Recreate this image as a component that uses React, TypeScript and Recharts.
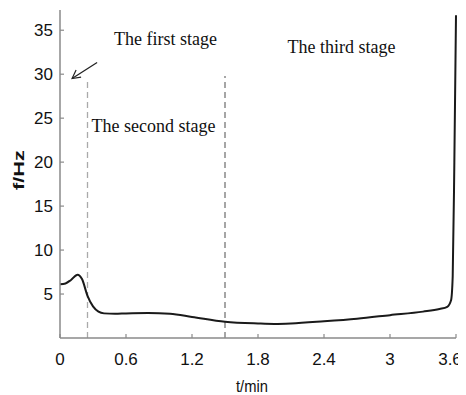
import React from 'react';
import {
  LineChart,
  Line,
  XAxis,
  YAxis,
  ReferenceLine,
  ReferenceDot,
} from 'recharts';

// time (min) and frequency (Hz)
const times = [
  0, 0.05, 0.1, 0.16, 0.2, 0.25, 0.3, 0.35, 0.4, 0.5, 0.6, 0.8, 1.0, 1.2,
  1.5, 1.8, 1.95, 2.1, 2.4, 2.7, 3.0, 3.3, 3.45, 3.52, 3.555, 3.57, 3.585, 3.6,
];
const freqs = [
  6.1, 6.2, 6.6, 7.2, 6.7, 4.8, 3.6, 3.0, 2.8, 2.75, 2.8, 2.85, 2.75, 2.4,
  1.85, 1.65, 1.6, 1.65, 1.9, 2.2, 2.6, 3.0, 3.3, 3.55, 4.3, 7, 20, 36.7,
];

const xTicks = [0, 0.6, 1.2, 1.8, 2.4, 3, 3.6];
const yTicks = [5, 10, 15, 20, 25, 30, 35];

// stage boundaries (min) and dashed line heights (Hz)
const stageBounds = [0.25, 1.5];
const stageTops = [29.5, 29.8];

const stageLabels = ['The first stage', 'The second stage', 'The third stage'];

const data = times.map((t, i) => ({ t, f: freqs[i] }));

const AXIS = '#8a8a8a';
const SANS = 'Liberation Sans, Arial, sans-serif';

const XTick = (props: any) => {
  const { x, y, payload } = props;
  // last label sits against the page edge, pull it in
  const isLast = Number(payload.value) >= 3.59;
  return (
    <g>
      <line x1={x} y1={y} x2={x} y2={y - 4} stroke={AXIS} strokeWidth={1.2} />
      <text
        x={isLast ? x - 6 : x}
        y={y + 27}
        textAnchor="middle"
        fontFamily={SANS}
        fontSize={17}
        fill="#111"
      >
        {payload.value}
      </text>
    </g>
  );
};

const YTick = (props: any) => {
  const { x, y, payload } = props;
  return (
    <g>
      <line x1={x} y1={y} x2={x + 4} y2={y} stroke={AXIS} strokeWidth={1.2} />
      <text x={x - 7} y={y + 6} textAnchor="end" fontFamily={SANS} fontSize={17} fill="#111">
        {payload.value}
      </text>
    </g>
  );
};

const XLabel = (props: any) => {
  const { viewBox } = props;
  const cx = viewBox.x + viewBox.width / 2 - 6;
  return (
    <text
      x={cx}
      y={384}
      textAnchor="middle"
      fontFamily={SANS}
      fontSize={17}
      textLength={32}
      lengthAdjust="spacingAndGlyphs"
      fill="#111"
    >
      t/min
    </text>
  );
};

const YLabel = (props: any) => {
  const { viewBox } = props;
  const cy = viewBox.y + viewBox.height / 2 - 4;
  const cx = 10;
  return (
    <text
      x={cx}
      y={cy}
      transform={`rotate(-90 ${cx} ${cy})`}
      textAnchor="middle"
      dominantBaseline="central"
      fontFamily={SANS}
      fontSize={15}
      fontWeight={700}
      textLength={40}
      lengthAdjust="spacingAndGlyphs"
      fill="#111"
    >
      f/Hz
    </text>
  );
};

const Arrow = (props: any) => {
  const { cx, cy } = props;
  if (cx == null || cy == null) return null;
  const tx = cx + 25;
  const ty = cy - 16;
  return (
    <g stroke="#222" strokeWidth={1.2} fill="none">
      <line x1={cx} y1={cy} x2={tx} y2={ty} />
      <polyline points={`${cx + 9},${cy - 1.5} ${cx},${cy} ${cx + 4},${cy - 8.5}`} />
    </g>
  );
};

const stageLabel = (value: string) => ({
  value,
  position: 'center' as const,
  fontFamily: 'Liberation Serif, Times New Roman, serif',
  fontSize: 18,
  fill: '#111',
});

export default function App() {
  return (
    <>
      {/* the chart fills the window to its bottom edge, keep scrollbars away */}
      <style>{'html, body { overflow: hidden; }'}</style>
      <LineChart
        width={458}
        height={387}
        data={data}
        margin={{ top: 2, right: 10, left: 0, bottom: 0 }}
      >
        <XAxis
          dataKey="t"
          type="number"
          domain={[0, 3.6]}
          ticks={xTicks}
          interval={0}
          height={57}
          stroke={AXIS}
          strokeWidth={1.5}
          tickLine={false}
          tickSize={0}
          tickMargin={0}
          tick={<XTick />}
          label={<XLabel />}
        />
        <YAxis
          type="number"
          domain={[0, 37.3]}
          ticks={yTicks}
          interval={0}
          width={52}
          stroke={AXIS}
          strokeWidth={1.5}
          tickLine={false}
          tickSize={0}
          tickMargin={0}
          tick={<YTick />}
          label={<YLabel />}
        />
        <ReferenceLine
          segment={[
            { x: stageBounds[0], y: 0 },
            { x: stageBounds[0], y: stageTops[0] },
          ]}
          stroke="#aaaaaa"
          strokeWidth={1.3}
          strokeDasharray="6 4"
        />
        <ReferenceLine
          segment={[
            { x: stageBounds[1], y: 0 },
            { x: stageBounds[1], y: stageTops[1] },
          ]}
          stroke="#777777"
          strokeWidth={1.3}
          strokeDasharray="6 4"
        />
        <ReferenceDot x={0.96} y={34.1} r={0} stroke="none" label={stageLabel(stageLabels[0])} />
        <ReferenceDot x={0.85} y={24.2} r={0} stroke="none" label={stageLabel(stageLabels[1])} />
        <ReferenceDot x={2.56} y={33.1} r={0} stroke="none" label={stageLabel(stageLabels[2])} />
        <ReferenceDot x={0.11} y={29.5} r={0} shape={<Arrow />} />
        <Line
          type="monotone"
          dataKey="f"
          stroke="#1a1a1a"
          strokeWidth={2}
          dot={false}
          isAnimationActive={false}
        />
      </LineChart>
    </>
  );
}
